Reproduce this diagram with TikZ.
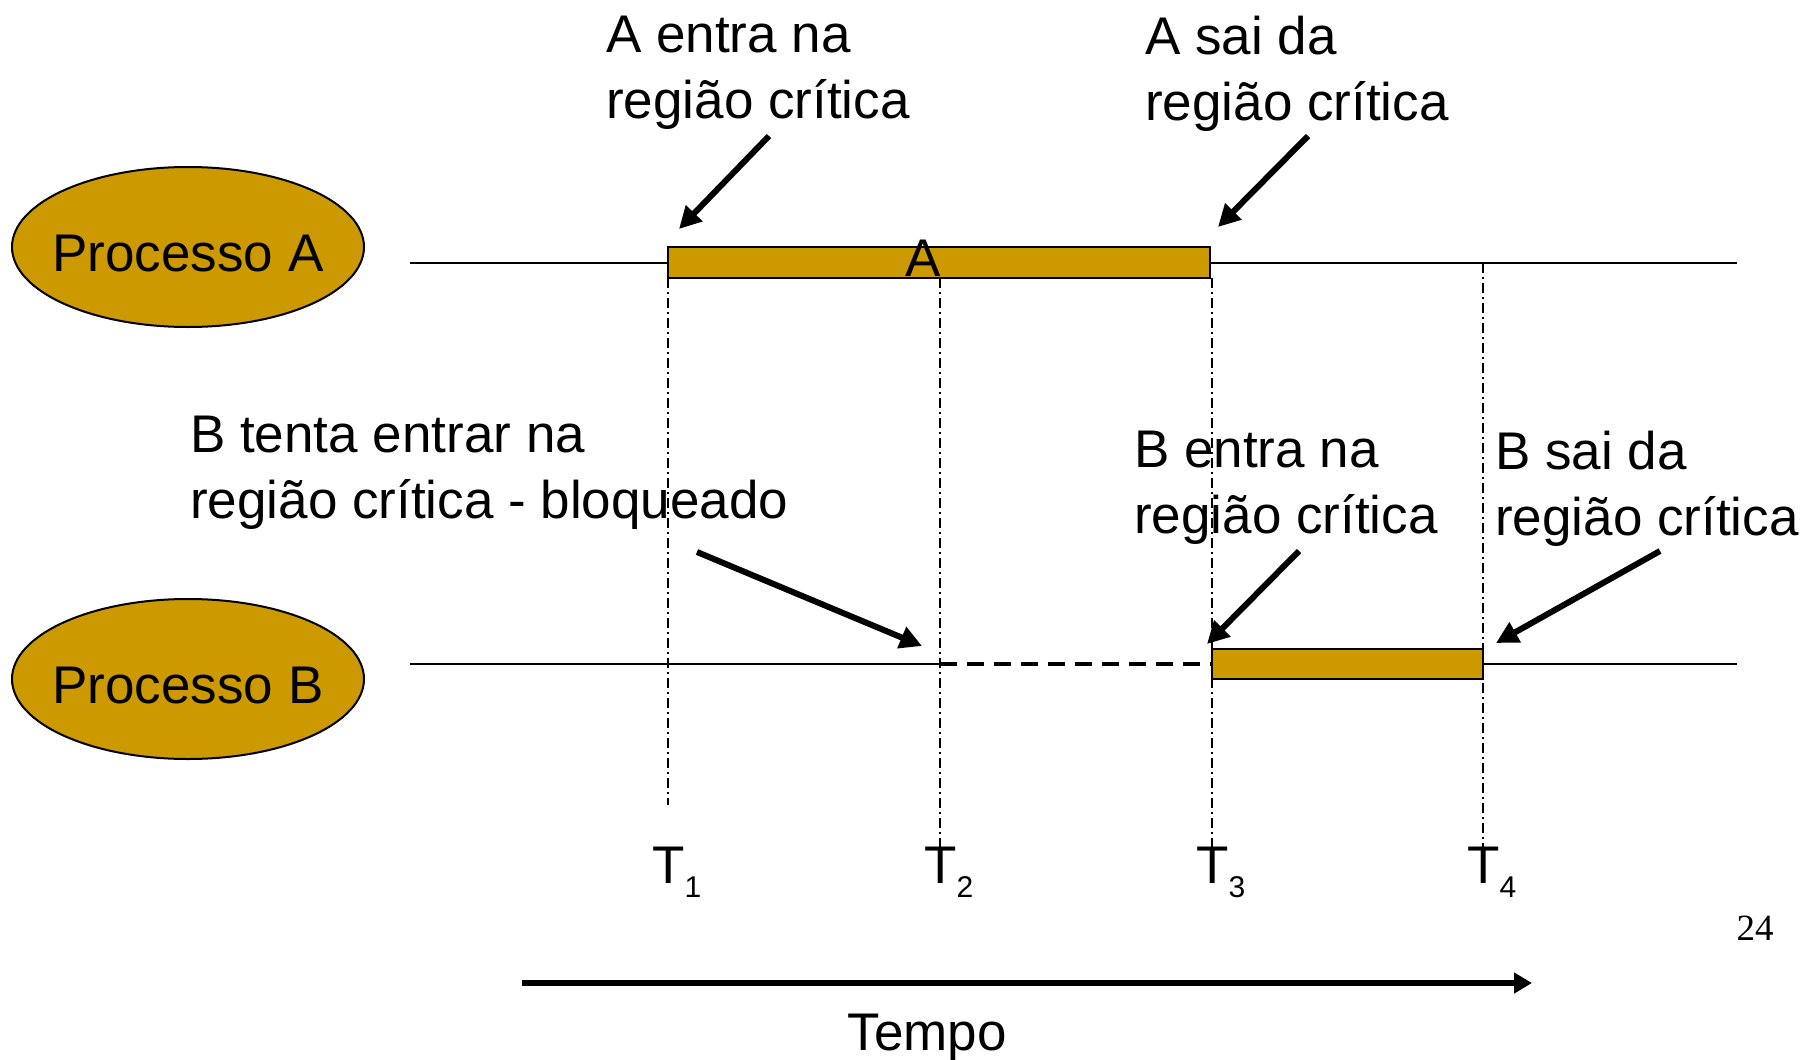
\documentclass[tikz,border=0pt]{standalone}
\usepackage{fontspec}
\setmainfont{Liberation Sans}
\newfontfamily\pagefont{Liberation Serif}
\usepackage{xcolor}
\usepackage{tikz}
\definecolor{critGold}{RGB}{204, 153, 0}
\usetikzlibrary{shapes.geometric, arrows.meta, positioning}

\newcommand{\tick}[1]{T\raisebox{-14pt}{\fontsize{30}{30}\selectfont #1}}
\newcommand{\procText}[1]{\raisebox{-24pt}[0pt][0pt]{\makebox[0pt]{#1}}}

\begin{document}
\begin{tikzpicture}[
    x=1pt, y=-1pt,
    every node/.style={inner sep=0pt, font=\fontsize{53}{66}\selectfont},
    procname/.style={ellipse, draw=black, line width=2pt, fill=critGold,
        minimum width=352pt, minimum height=160pt},
    timeline/.style={line width=2pt},
    waitline/.style={line width=4pt, dash pattern=on 17pt off 10pt},
    critbar/.style={rectangle, draw=black, line width=2.5pt, fill=critGold},
    tickline/.style={line width=2pt, dash pattern=on 10pt off 4pt on 2pt off 4pt},
    callout/.style={line width=6pt, -{Triangle[length=22pt, width=22pt]}},
    note/.style={anchor=north west, align=left}
]
    \useasboundingbox (0,0) rectangle (1810,1060);

    % processes
    \node[procname] (procA) at (188,247) {\procText{Processo A}};
    \node[procname] (procB) at (188,679) {\procText{Processo B}};

    % time lines
    \coordinate (lineAstart) at (410,263);
    \coordinate (lineAend) at (1737,263);
    \coordinate (lineBstart) at (410,664);
    \coordinate (lineBwait) at (940,664);
    \coordinate (lineBend) at (1737,664);
    \draw[timeline] (lineAstart) -- (lineAend);

    % ticks
    \coordinate (t1top) at (668,278);  \coordinate (t1bot) at (668,805);
    \coordinate (t2top) at (940,278);  \coordinate (t2bot) at (940,848);
    \coordinate (t3top) at (1212,278); \coordinate (t3bot) at (1212,848);
    \coordinate (t4top) at (1483,263); \coordinate (t4bot) at (1483,848);
    \draw[tickline] (t1top) -- (t1bot);
    \draw[tickline] (t2top) -- (t2bot);
    \draw[tickline] (t3top) -- (t3bot);
    \draw[tickline] (t4top) -- (t4bot);

    % critical regions
    \node[critbar, minimum width=542pt, minimum height=31pt] (barA) at (939,262.5) {};
    \node[anchor=base] (barAlabel) at (923,276) {A};
    \node[critbar, minimum width=271pt, minimum height=30pt] (barB) at (1347.5,664) {};
    \draw[timeline] (lineBstart) -- (lineBwait);
    \draw[waitline] (lineBwait) -- (barB.west);
    \draw[timeline] (barB.east) -- (lineBend);

    % tick labels
    \node[anchor=base west] (t1) at (652,883) {\tick{1}};
    \node[anchor=base west] (t2) at (924,883) {\tick{2}};
    \node[anchor=base west] (t3) at (1196,883) {\tick{3}};
    \node[anchor=base west] (t4) at (1467,883) {\tick{4}};

    % notes
    \node[note] (aIn) at (606,16) {A entra na\\região crítica};
    \node[note] (aOut) at (1145,16) {A sai da\\região crítica};
    \node[note] (bTry) at (190,416) {B tenta entrar na\\região crítica - bloqueado};
    \node[note] (bIn) at (1134,431) {B entra na\\região crítica};
    \node[note] (bOut) at (1495,431) {B sai da\\região crítica};

    % callouts
    \coordinate (aInTail) at (769,136);   \coordinate (aInTip) at (679,229);
    \coordinate (aOutTail) at (1308,136); \coordinate (aOutTip) at (1218,227);
    \coordinate (bTryTail) at (697,552);  \coordinate (bTryTip) at (922,646);
    \coordinate (bInTail) at (1299,551);  \coordinate (bInTip) at (1207,644);
    \coordinate (bOutTail) at (1660,551); \coordinate (bOutTip) at (1496,643);
    \draw[callout] (aInTail) -- (aInTip);
    \draw[callout] (aOutTail) -- (aOutTip);
    \draw[callout] (bTryTail) -- (bTryTip);
    \draw[callout] (bInTail) -- (bInTip);
    \draw[callout] (bOutTail) -- (bOutTip);

    % time axis
    \coordinate (timeStart) at (522,983);
    \coordinate (timeEnd) at (1532,983);
    \draw[line width=6pt, -{Triangle[length=18pt, width=20pt]}] (timeStart) -- (timeEnd);
    \node[anchor=base] (tempo) at (927,1050) {Tempo};

    % page number
    \node[anchor=base, font=\pagefont\fontsize{37}{37}\selectfont] (pageNo) at (1755,940) {24};
\end{tikzpicture}
\end{document}
